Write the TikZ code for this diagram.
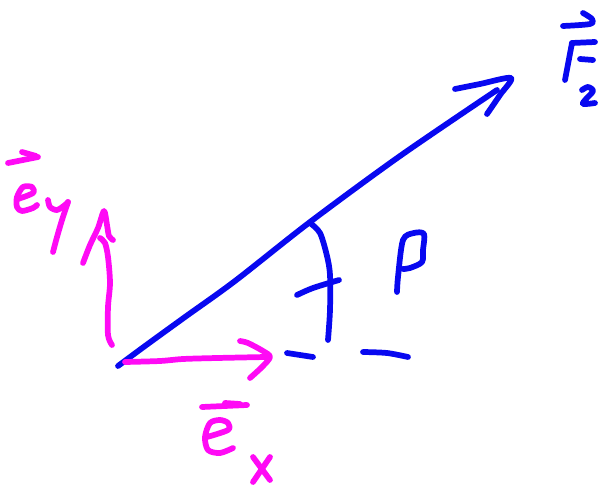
\documentclass[tikz,border=0pt]{standalone}
\begin{document}
\begin{tikzpicture}[x=0.75pt,y=-0.75pt,
  pen/.style={line width=4.3pt,line cap=round,line join=round},
  bluepen/.style={pen,draw={rgb,255:red,8;green,8;blue,240}},
  magpen/.style={pen,draw={rgb,255:red,255;green,10;blue,245}}]
\useasboundingbox (0,0) rectangle (603,492);
% F2 shaft and head
\draw[bluepen] plot[smooth] coordinates {(118,366) (145,346) (185,317) (235,281) (310,222) (400,156) (497,90)};
\draw[bluepen] plot[smooth] coordinates {(455,89) (480,84) (511,78) (500,95) (487,114)};
% angle arc with tick
\draw[bluepen] plot[smooth] coordinates {(310,223) (320,233) (327,256) (330,275) (330,310) (328,340)};
\draw[bluepen] plot[smooth] coordinates {(297,295) (313,288) (339,280)};
% beta
\draw[bluepen] plot[smooth] coordinates {(397,292) (398,277) (403,240) (414,233) (424,234) (423,250) (422,262) (410,268) (403,269)};
% dashed reference line
\draw[bluepen] plot[smooth] coordinates {(287,353) (300,355) (313,357)};
\draw[bluepen] plot[smooth] coordinates {(363,352) (387,353) (408,357)};
% F2 label
\draw[bluepen] plot[smooth] coordinates {(563,26) (590,24) (592,19) (583,13)};
\draw[bluepen] (572,43) -- (565,80);
\draw[bluepen] (572,43) -- (595,42);
\draw[bluepen] (580,59) -- (593,60);
\draw[bluepen] plot[smooth] coordinates {(582,90) (588,87) (593,91) (586,99) (583,104) (595,103)};
% e_x arrow
\draw[magpen] plot[smooth] coordinates {(125,362) (160,361) (183,359) (217,358) (266,357)};
\draw[magpen] plot[smooth] coordinates {(240,341) (248,343) (263,351) (270,357) (262,367) (250,378)};
% e_y arrow
\draw[magpen] plot[smooth] coordinates {(112,345) (108,335) (108,307) (110,283) (108,257) (105,243) (100,238)};
\draw[magpen] plot[smooth] coordinates {(83,263) (90,245) (98,228) (104,211) (107,225) (109,236) (113,240)};
% e_y label
\draw[magpen] (8,163) -- (38,157);
\draw[magpen] (22,152) -- (36,156);
\draw[magpen] plot[smooth] coordinates {(18,199) (33,193) (32,187) (23,187) (17,197) (17,207) (22,211) (33,208) (37,205)};
\draw[magpen] plot[smooth] coordinates {(48,200) (50,207) (57,210) (65,205) (68,202)};
\draw[magpen] plot[smooth] coordinates {(68,202) (62,220) (57,237) (53,252)};
% e_x label
\draw[magpen] (202,407) -- (247,405);
\draw[magpen] (225,403) -- (240,404);
\draw[magpen] plot[smooth] coordinates {(207,437) (228,430) (228,423) (220,420) (210,423) (205,437) (208,450) (220,453) (233,448)};
\draw[magpen] (253,457) -- (270,480);
\draw[magpen] (270,457) -- (253,482);
\end{tikzpicture}
\end{document}
